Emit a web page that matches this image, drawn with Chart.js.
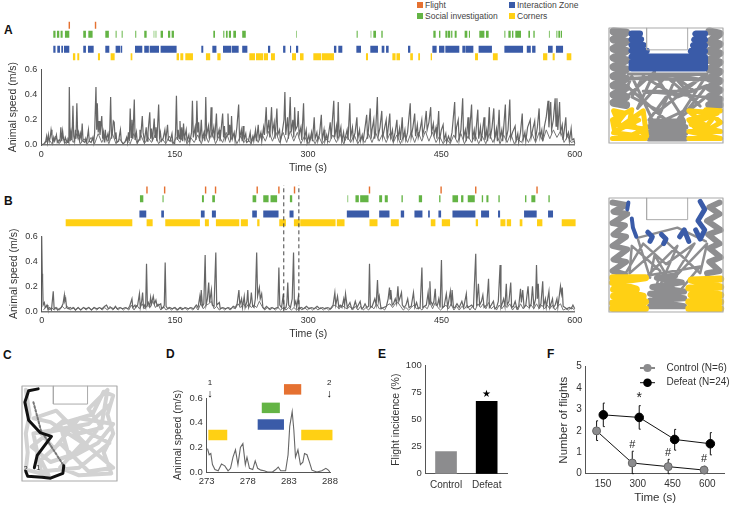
<!DOCTYPE html>
<html>
<head>
<meta charset="utf-8">
<script src="https://cdn.jsdelivr.net/npm/chart.js@4"></script>
<style>
  body { margin: 0; background: #fff; width: 730px; height: 506px; overflow: hidden; position: relative; font-family: "Liberation Sans", Arial, sans-serif; color: #333; }
  canvas { position: absolute; }
  .letter { position: absolute; font-weight: bold; font-size: 12px; color: #111; line-height: 12px; }
  .key { position: absolute; font-size: 8.5px; line-height: 9px; color: #444; white-space: nowrap; }
  .key i { position: absolute; left: -8px; top: 1px; width: 6px; height: 6px; }
</style>
</head>
<body>
<div class="letter" style="left:4px;top:24px">A</div>
<div class="letter" style="left:4px;top:195px">B</div>
<div class="letter" style="left:3px;top:349px">C</div>
<div class="letter" style="left:166px;top:348px">D</div>
<div class="letter" style="left:378px;top:348px">E</div>
<div class="letter" style="left:547px;top:348px">F</div>
<div class="key" style="left:425px;top:1px"><i style="background:#E57131"></i>Flight</div>
<div class="key" style="left:425px;top:12px"><i style="background:#64B445"></i>Social investigation</div>
<div class="key" style="left:517px;top:1px"><i style="background:#3A5BA8"></i>Interaction Zone</div>
<div class="key" style="left:517px;top:12px"><i style="background:#FFD014"></i>Corners</div>
<canvas id="chartA" width="600" height="175" style="left:0;top:0"></canvas>
<canvas id="chartB" width="600" height="170" style="left:0;top:175px"></canvas>
<canvas id="arenaA" width="130" height="135" style="left:600px;top:20px"></canvas>
<canvas id="arenaB" width="130" height="135" style="left:600px;top:190px"></canvas>
<canvas id="arenaC" width="120" height="115" style="left:10px;top:376px"></canvas>
<canvas id="chartD" width="190" height="130" style="left:160px;top:376px"></canvas>
<canvas id="chartE" width="150" height="146" style="left:380px;top:355px"></canvas>
<canvas id="chartF" width="190" height="151" style="left:540px;top:355px"></canvas>
<script>
const orange = "#E57131", green = "#64B445", blue = "#3A5BA8", yellow = "#FFD014";
const axisGrey = "#555", traceGrey = "#666";

// panel A, seconds and m/s
const traceA = [[0,0],[3,.01],[5,.03],[6,.07],[7,.02],[8,.08],[9,.03],[10,.06],[11,.12],[12,.07],[13,.02],[14,.06],[15,.03],[16,.05],[17,.08],[18,.02],[20,.04],[21,.03],[22,.14],[23,.03],[24,.11],[25,.05],[26,.02],[27,.06],[29,.02],[30,.04],[31,.02],[31.5,.46],[32.5,.03],[33.5,.1],[34.5,.04],[35.6,.31],[36.5,.07],[37.5,.03],[38.5,.12],[39,.05],[40,.33],[41,.07],[42,.1],[43,.04],[44,.09],[45,.05],[46,.17],[47,.03],[49,.02],[50,.05],[51,.02],[53,.12],[54,.03],[56,.02],[58,.06],[59,.02],[60,.1],[61.5,.46],[62.3,.12],[63,.33],[64,.1],[65,.19],[66,.08],[67,.15],[68,.23],[69,.05],[70,.1],[71,.02],[72,.12],[73,.04],[75,.09],[76,.03],[77,.12],[78,.38],[79,.05],[80,.1],[81,.19],[82,.18],[83,.05],[84,.1],[85,.02],[87,.03],[88,.08],[89,.12],[90,.03],[92,.01],[94,.02],[96,.06],[97,.02],[98,.1],[99,.03],[100,.29],[101,.06],[102,.2],[103,.05],[104.6,.36],[105.5,.04],[107,.1],[108,.02],[110,.04],[111,.12],[112,.08],[113.6,.23],[114.5,.1],[116,.03],[118,.14],[119,.03],[120,.1],[122,.26],[123,.05],[124,.13],[125,.03],[127,.21],[128,.06],[129,.14],[130,.03],[132,.32],[133,.06],[134,.1],[135,.03],[137,.05],[139,.12],[140,.04],[142,.16],[143,.04],[145,.03],[147,.09],[148,.02],[150,.01],[151,.1],[152,.39],[153,.04],[154,.12],[155,.05],[156,.19],[157,.04],[158,.14],[159,.03],[160,.17],[161,.05],[163,.12],[164,.03],[166,.08],[167,.02],[169,.1],[170,.35],[171,.06],[173,.14],[174,.04],[175,.35],[176,.1],[177,.18],[178,.03],[179,.09],[180,.2],[181,.05],[183,.1],[184,.03],[185,.38],[186,.08],[188,.15],[189,.05],[190,.12],[191,.3],[192,.06],[194,.14],[195,.04],[197,.25],[198,.06],[200,.12],[201,.03],[202,.1],[204,.25],[205,.06],[206,.15],[207,.04],[209,.08],[210,.25],[211,.08],[212,.16],[213,.04],[214,.23],[215,.05],[217,.1],[218,.03],[220,.14],[222,.32],[223,.05],[225,.12],[226,.03],[227,.15],[228,.04],[230,.09],[231,.02],[233,.03],[235,.1],[236,.02],[238,.07],[239,.03],[241,.12],[242,.03],[244,.16],[245,.05],[247,.1],[248,.03],[250,.14],[251,.08],[253,.3],[254,.09],[256,.2],[257,.06],[259,.3],[260,.1],[262,.18],[263,.05],[265,.29],[266,.08],[268,.12],[269,.03],[271,.1],[273,.2],[274,.42],[275,.08],[277,.22],[278,.05],[280,.38],[281,.1],[283,.2],[284,.06],[285,.3],[286,.12],[288,.15],[289,.27],[290,.08],[292,.14],[293,.04],[295,.33],[296,.05],[298,.12],[299,.02],[301,.08],[302,.03],[304,.1],[305,.03],[307,.22],[308,.05],[310,.1],[311,.03],[313,.09],[315,.24],[316,.04],[318,.12],[319,.03],[321,.08],[322,.03],[325,.18],[326,.05],[329,.35],[330,.06],[332,.15],[333,.05],[334,.34],[335,.07],[337,.14],[338,.03],[340,.1],[341,.03],[344,.12],[345,.04],[347,.33],[348,.06],[350,.14],[351,.04],[353,.1],[355,.22],[356,.05],[358,.12],[359,.03],[361,.08],[362,.03],[364,.13],[366,.24],[367,.05],[368,.12],[370,.29],[371,.05],[372,.12],[374,.2],[375,.05],[376,.1],[378,.38],[379,.07],[381,.14],[383,.27],[384,.06],[386,.13],[388,.2],[389,.05],[390,.12],[392,.25],[393,.06],[395,.12],[396,.03],[398,.1],[400,.2],[401,.05],[403,.13],[404,.04],[406,.22],[407,.05],[409,.12],[410,.04],[412,.1],[415,.33],[416,.06],[418,.14],[420,.25],[421,.07],[423,.16],[424,.06],[426,.12],[428,.2],[429,.08],[431,.14],[433,.27],[434,.12],[436,.18],[438,.3],[439,.1],[441,.17],[442,.08],[444,.14],[445,.05],[447,.27],[448,.04],[450,.12],[452,.16],[453,.04],[455,.09],[456,.02],[458,.07],[460,.03],[462,.1],[465,.34],[466,.05],[467,.14],[469,.2],[470,.04],[472,.12],[474,.37],[475,.06],[477,.12],[478,.03],[480,.22],[481,.05],[482,.13],[484,.32],[485,.05],[487,.12],[488,.03],[491,.28],[492,.05],[494,.14],[495,.03],[498,.22],[499,.04],[501,.12],[502,.03],[504,.3],[505,.05],[507,.14],[509,.29],[510,.05],[512,.13],[513,.03],[515,.28],[516,.05],[518,.12],[519,.03],[522,.32],[523,.05],[525,.12],[527,.36],[528,.05],[530,.1],[533,.15],[534,.03],[536,.09],[537,.02],[539,.1],[541,.25],[542,.04],[544,.1],[545,.03],[547,.14],[550,.2],[551,.06],[553,.13],[555,.19],[556,.05],[558,.14],[560,.29],[561,.06],[563,.12],[564,.03],[566,.15],[568,.22],[570,.35],[571,.14],[573,.34],[574,.12],[576,.2],[578,.37],[579,.15],[580,.37],[581,.12],[583,.34],[584,.1],[586,.16],[587,.04],[590,.22],[591,.06],[593,.1],[594,.03],[596,.13],[597,.04],[599,.05],[600,.01]];
// low dark band along the floor of the trace
const floorA = [[4,.01],[8,.05],[12,.01],[16,.07],[20,.01],[24,.06],[28,.01],[32,.07],[36,.02],[40,.09],[44,.01],[48,.05],[52,.01],[56,.06],[60,.01],[64,.09],[68,.02],[72,.08],[76,.01],[80,.09],[84,.01],[88,.05],[92,.01],[96,.04],[100,.01],[104,.09],[108,.01],[112,.08],[116,.01],[120,.06],[124,.02],[128,.08],[132,.01],[136,.05],[140,.01],[144,.07],[148,.01],[152,.06],[156,.02],[160,.09],[164,.01],[168,.06],[172,.02],[176,.08],[180,.01],[184,.09],[188,.02],[192,.1],[196,.01],[200,.07],[204,.02],[208,.1],[212,.02],[216,.09],[220,.01],[224,.07],[228,.02],[232,.05],[236,.01],[240,.08],[244,.02],[248,.09],[252,.03],[256,.11],[260,.03],[264,.1],[268,.02],[272,.1],[276,.02],[280,.11],[284,.03],[288,.1],[292,.01],[296,.07],[300,.01],[304,.06],[308,.01],[312,.07],[316,.01],[320,.05],[324,.02],[328,.08],[332,.02],[336,.09],[340,.01],[344,.07],[348,.02],[352,.08],[356,.01],[360,.06],[364,.02],[368,.09],[372,.02],[376,.1],[380,.03],[384,.09],[388,.02],[392,.09],[396,.02],[400,.08],[404,.01],[408,.08],[412,.02],[416,.1],[420,.02],[424,.1],[428,.03],[432,.11],[436,.03],[440,.1],[444,.02],[448,.07],[452,.01],[456,.05],[460,.01],[464,.08],[468,.02],[472,.09],[476,.01],[480,.07],[484,.02],[488,.08],[492,.01],[496,.07],[500,.01],[504,.09],[508,.02],[512,.09],[516,.01],[520,.08],[524,.02],[528,.09],[532,.01],[536,.05],[540,.02],[544,.08],[548,.02],[552,.09],[556,.02],[560,.1],[564,.03],[568,.12],[572,.05],[576,.12],[580,.06],[584,.11],[588,.02],[592,.07],[596,.02],[600,.03]];
const flightA = [[30.7,32.3],[60.2,61.8]];
const socialA = [[13.5,16],[17.6,20.2],[21.7,24],[26.6,31.5],[47.2,50.2],[52.9,57.7],[72,76],[83.6,84.7],[90.4,91.5],[105.7,106.8],[115.8,118.5],[126.4,127.1],[128.6,129.4],[134.2,136.9],[142.5,145],[146.6,149.2],[193.5,195.4],[204.7,205.9],[207.7,209.6],[211,213.4],[216,219],[220.5,221.2],[226,230],[255.4,256],[272.2,273],[286.5,287.2],[354.7,355.9],[370.5,371.2],[373.5,376.5],[382.5,384],[441,443.6],[447.4,448.9],[454.5,456.4],[457,460],[461,462.4],[465,467.2],[476.2,479.2],[481,482.2],[492.7,498.4],[500.2,503.2],[520.9,522],[525.4,528],[529.5,531],[533.2,539.6],[547.9,549.7],[553.5,555],[571,571.9],[579.4,580.5],[581.6,583.5],[584.3,585.7]];
const zoneA = [[13.5,16],[18,21],[22.5,24.4],[25.5,31.5],[47.2,50.2],[52.5,58.9],[72,76.5],[83.6,88.5],[89.2,91],[105.4,113.6],[115.8,121],[121.9,132.4],[134.2,152.2],[180,182.2],[192.4,197],[204.4,213.4],[214.1,222],[226,231.8],[255,257.5],[272,274.6],[279.8,281],[286.5,289],[329.2,331.9],[334.1,338.6],[354.4,359.6],[370.1,378.7],[382.9,385.9],[387.8,390.7],[412.5,415.1],[426,427.1],[439.9,444.7],[447.4,453.4],[454.5,470.2],[473.6,477],[477.4,486],[491.9,506.9],[520.9,541.9],[546.1,550.6],[552.1,555.9],[570,575.2],[578.9,586.9]];
const cornersA = [[35.6,38.2],[40.5,42.7],[63.7,66],[78,82.5],[100.5,102.4],[152.2,154.9],[156.4,159.7],[162,170.6],[185.2,190],[198,201.7],[234,240.4],[241.5,249.7],[250.5,255],[258.4,262.8],[282,286.5],[291,295],[306,314.6],[315.4,329.2],[365.2,367.5],[394.9,398.5],[399.5,403.5],[415,418],[424,426],[438,439.5],[487.9,491.2],[508,513.4],[564.4,569.2],[575.2,577.5],[591,596.2]];

// panel B
const traceB = [[0,.6],[.6,.3],[1,.25],[1.6,.05],[3,.07],[4,.03],[6,.05],[7,.02],[9,.03],[11,.01],[13,.16],[14,.02],[16,.03],[18,.01],[20,.02],[22,.03],[24,.06],[25.5,.13],[26,.08],[27,.1],[28,.03],[30,.02],[32,.03],[34,.02],[36,.03],[38,.01],[41,.03],[44,.01],[47,.03],[50,.02],[53,.03],[56,.01],[59,.03],[62,.02],[65,.03],[68,.02],[71,.04],[73,.05],[75,.02],[78,.03],[81,.02],[83,.04],[85,.02],[88,.03],[91,.02],[94,.03],[97,.02],[99,.04],[101.6,.1],[102.5,.03],[105,.05],[106,.03],[108,.05],[110,.14],[111,.03],[112.5,.08],[113.6,.15],[114.6,.03],[116,.05],[117,.03],[118,.38],[119,.05],[120,.07],[121.5,.04],[122.6,.11],[123.5,.06],[125.6,.12],[127,.06],[128.6,.09],[130,.04],[132,.05],[134,.06],[135,.02],[137,.03],[138,.05],[139,.39],[140,.04],[142,.02],[144,.03],[147,.02],[150,.03],[153,.01],[156,.03],[159,.02],[162,.03],[165,.02],[168,.03],[171,.02],[174,.05],[176,.03],[178,.12],[179,.05],[179.6,.17],[181,.04],[182.5,.06],[184,.45],[185,.05],[186.5,.1],[188,.23],[189,.07],[191,.17],[192,.05],[194,.04],[196,.47],[197,.05],[200,.07],[201,.02],[204,.03],[207,.02],[210,.03],[213,.02],[215.6,.04],[218,.03],[220,.06],[222,.17],[223,.05],[225,.1],[226,.03],[228,.12],[229,.03],[231,.08],[232,.17],[233,.03],[235,.07],[236,.15],[237.5,.04],[239,.03],[240.5,.1],[242,.47],[243,.12],[245,.19],[246,.1],[247.6,.14],[249,.03],[251,.02],[253,.04],[256,.02],[259,.03],[262,.02],[265,.03],[266,.08],[267,.35],[268,.05],[270,.03],[272,.14],[273,.02],[275,.03],[276,.07],[277,.23],[278,.05],[280,.03],[282,.1],[283.5,.47],[284.5,.05],[286,.08],[287,.03],[289,.12],[290,.02],[292,.03],[295,.02],[298,.04],[301,.02],[304,.03],[307,.02],[310,.04],[313,.02],[316,.03],[319,.02],[322,.03],[325,.02],[328,.05],[330,.15],[331,.05],[333,.12],[334.5,.03],[336,.05],[338,.03],[340,.1],[341,.05],[342,.14],[344,.03],[347,.07],[349,.02],[351,.03],[353,.08],[355,.03],[358.5,.08],[360,.02],[362,.03],[364,.06],[366,.03],[368,.04],[369,.38],[370,.03],[372,.04],[375,.1],[376.5,.05],[378,.25],[379,.08],[380,.12],[382,.02],[385,.03],[388,.04],[390,.1],[391.5,.19],[392.2,.1],[393,.17],[394.5,.05],[396,.06],[398,.1],[399.5,.06],[401,.2],[402,.08],[403,.1],[405,.15],[406,.05],[408,.03],[410,.05],[412,.1],[413.5,.03],[416,.04],[418.5,.15],[420,.03],[422,.07],[424,.02],[426,.03],[428,.35],[429,.03],[431,.04],[433,.05],[435,.15],[436,.06],[437,.24],[438,.08],[440,.05],[441.5,.08],[443,.18],[444,.05],[445.5,.05],[447,.1],[448.5,.03],[450,.41],[451,.03],[453,.04],[455.5,.14],[457,.03],[460,.16],[461,.04],[462,.17],[463.5,.03],[465,.03],[467.5,.06],[470,.03],[473,.08],[475,.03],[478,.14],[479,.03],[482,.04],[484,.05],[486,.03],[488.6,.46],[489.6,.04],[491.6,.22],[493,.05],[495,.08],[496.6,.13],[498,.03],[501,.05],[503,.26],[504,.03],[506,.05],[508.5,.08],[510,.02],[512,.03],[514,.08],[516,.37],[517,.03],[520,.1],[521.5,.04],[523,.22],[524,.05],[526,.08],[528,.23],[529,.03],[531,.04],[533,.08],[535,.02],[537,.04],[539,.18],[540,.07],[541.5,.17],[543,.03],[545,.05],[547.5,.2],[549,.03],[551,.06],[552.5,.2],[554,.04],[556,.1],[557,.37],[558,.1],[559,.22],[560,.03],[562,.06],[564,.24],[565,.04],[567,.1],[568,.03],[571,.16],[572,.03],[575,.1],[576,.03],[578,.05],[580,.1],[581,.03],[584,.2],[585,.14],[586,.19],[587,.04],[591,.02],[594,.03],[596,.02],[598,.05],[600,.02]];
const floorB = [[2,.01],[5,.04],[8,.01],[11,.03],[14,.01],[17,.03],[20,.01],[23,.04],[26,.02],[29,.04],[32,.01],[35,.03],[38,.01],[41,.03],[44,.01],[47,.03],[50,.01],[53,.03],[56,.01],[59,.03],[62,.01],[65,.03],[68,.01],[71,.03],[74,.01],[77,.04],[80,.01],[83,.03],[86,.01],[89,.03],[92,.01],[95,.03],[98,.01],[101,.05],[104,.01],[107,.05],[110,.02],[113,.06],[116,.02],[119,.05],[122,.03],[125,.08],[128,.03],[131,.06],[134,.01],[137,.04],[140,.01],[143,.03],[146,.01],[149,.03],[152,.01],[155,.03],[158,.01],[161,.03],[164,.01],[167,.03],[170,.01],[173,.04],[176,.01],[179,.06],[182,.02],[185,.05],[188,.06],[191,.08],[194,.02],[197,.04],[200,.01],[203,.03],[206,.01],[209,.03],[212,.01],[215,.03],[218,.02],[221,.06],[224,.03],[227,.06],[230,.03],[233,.06],[236,.03],[239,.05],[242,.03],[245,.08],[248,.04],[251,.01],[254,.03],[257,.01],[260,.03],[263,.01],[266,.03],[269,.01],[272,.03],[275,.01],[278,.03],[281,.01],[284,.03],[287,.01],[290,.03],[293,.01],[296,.03],[299,.01],[302,.03],[305,.01],[308,.03],[311,.01],[314,.03],[317,.01],[320,.03],[323,.01],[326,.02],[329,.05],[332,.04],[335,.02],[338,.05],[341,.03],[344,.02],[347,.04],[350,.01],[353,.04],[356,.01],[359,.04],[362,.01],[365,.03],[368,.01],[371,.04],[374,.02],[377,.06],[380,.02],[383,.03],[386,.01],[389,.05],[392,.06],[395,.03],[398,.06],[401,.07],[404,.04],[407,.01],[410,.03],[413,.01],[416,.03],[419,.05],[422,.02],[425,.03],[428,.01],[431,.04],[434,.02],[437,.07],[440,.02],[443,.07],[446,.03],[449,.01],[452,.03],[455,.05],[458,.02],[461,.06],[464,.01],[467,.04],[470,.01],[473,.04],[476,.02],[479,.05],[482,.01],[485,.04],[488,.01],[491,.06],[494,.03],[497,.06],[500,.02],[503,.07],[506,.02],[509,.04],[512,.01],[515,.05],[518,.02],[521,.05],[524,.03],[527,.06],[530,.01],[533,.04],[536,.01],[539,.06],[542,.02],[545,.05],[548,.03],[551,.05],[554,.02],[557,.06],[560,.02],[563,.05],[566,.02],[569,.05],[572,.02],[575,.05],[578,.01],[581,.04],[584,.06],[587,.01],[590,.02],[593,.01],[596,.03],[600,.01]];
const flightB = [[117.7,119.3],[137.6,139.2],[183.7,185.3],[194.9,196.5],[241.8,243.4],[266.2,267.8],[283.8,285.4],[368.2,369.8],[448.8,450.4],[487.8,489.4],[556.8,558.4]];
const socialB = [[110.6,114.4],[136,137.2],[180.4,182.6],[192,195],[237.4,241.5],[249.4,255.4],[257.6,265],[279.4,282],[344.2,345],[353.2,357],[358.5,367.9],[379.9,383.2],[386.2,389.6],[405,406.5],[424.5,428.2],[435,435.8],[447.4,448.9],[462.4,468.7],[472.1,474.7],[479.6,487.5],[495.4,496.9],[500.6,502.9],[514.1,515.6],[544.1,545.6],[551.2,555.7],[570.4,571.9]];
const zoneB = [[110,117.7],[134.6,137.6],[179.2,183.4],[191.6,196.1],[237,242.2],[249.4,266.6],[279,283.5],[343.5,368.6],[379.9,391.5],[404.2,408],[419.6,428.6],[435,436.9],[446.6,449.6],[462.4,488.2],[494.6,503.6],[513.7,516],[543,557.2],[570,575.6]];
const cornersB = [[27,102],[118.1,124.9],[139.1,178.1],[183.7,188.2],[196.1,222.4],[224.2,232.1],[242.6,245.2],[267.4,274.9],[283.9,290.6],[291,330.8],[332.2,340.9],[369,378],[393,402],[438,443.2],[450.4,459.7],[488.6,491.2],[516.4,522],[523.5,528.4],[538.1,541.1],[557.6,563.6],[585.4,601]];
const windowB = [272.5, 289.5];

// panel D
const traceD = [[273.1,.19],[273.3,.14],[273.5,.15],[273.7,.06],[274,.02],[274.4,.01],[274.8,.065],[275.2,.05],[275.6,.01],[275.9,.03],[276.2,.12],[276.5,.18],[276.8,.06],[277.1,.2],[277.4,.23],[277.7,.06],[277.9,.12],[278.2,.03],[278.6,.02],[278.9,.09],[279.2,.03],[279.6,.015],[280,.01],[280.4,0],[281,0],[281.4,.02],[281.7,.04],[282,.01],[282.6,.01],[282.9,.14],[283.1,.37],[283.4,.49],[283.6,.34],[283.8,.12],[284.1,.18],[284.4,.06],[284.7,.08],[284.9,.15],[285.2,.14],[285.5,.08],[285.8,.015],[286.4,0],[287,.01],[287.5,.03],[287.8,.015],[288,0]];
const yellowD = [[273.2,275.5],[284.5,288.3]];
const blueD = [[279.2,282.4]];
const greenD = [[279.7,281.9]];
const orangeD = [[282.4,284.5]];

// panel E
const groupsE = ["Control", "Defeat"];
const incidenceE = [20.5, 67];

// panel F
const binsF = [150, 300, 450, 600];
const controlX = [122, 276, 431, 586];
const defeatX = [151, 306, 459, 613];
const controlMean = [2, .5, .33, .17];
const controlLow = [1.55, 0, 0, 0];
const controlHigh = [2.47, 1.05, .67, .35];
const defeatMean = [2.75, 2.63, 1.6, 1.4];
const defeatLow = [2.2, 2.08, 1.1, .88];
const defeatHigh = [3.3, 3.18, 2.07, 1.92];

// open-field tracks, arena units 0-100
const boxOutline = [[33,100],[33,81],[69,81],[69,100]];
const frame = [[0,0],[100,0],[100,100],[0,100],[0,0]];
const sidesA1 = [[4,97],[15,96],[4,90],[15,88],[4,82],[15,80],[4,74],[15,72],[4,66],[15,64],[4,58],[15,56],[4,50],[15,48],[4,42],[15,40],[4,35],[15,33]];
const sidesA2 = [[88,97],[97,95],[88,88],[97,86],[88,80],[97,78],[88,72],[97,70],[88,64],[97,62],[88,56],[97,54],[88,48],[97,46],[88,40],[97,38],[88,33],[97,33]];
const webA = [[15,50],[50,20],[60,10],[38,10],[60,60],[17,60],[86,60],[17,56],[86,55],[40,60],[66,20],[35,20],[50,40],[85,58],[60,20],[85,40],[30,45],[75,45],[55,60],[80,32],[50,58],[25,30],[40,62],[10,35],[20,58],[40,16],[70,30],[86,50],[60,40],[30,58],[20,40],[44,28],[85,60]];
const floorGreyA = [[35,4],[67,4],[35,9],[67,9],[35,14],[67,14],[37,18],[65,18]];
const yellowA1 = [[3,4],[32,4],[4,9],[20,7],[32,12],[6,16],[14,26],[4,28],[10,14],[30,28],[33,6],[18,18],[20,29],[3,20],[5,10],[26,20]];
const yellowA2 = [[70,4],[98,4],[70,10],[98,10],[72,16],[95,26],[70,28],[88,12],[98,18],[85,29],[98,28],[70,20],[80,8],[90,20]];
const blueA = [[20,95],[27,95],[20,90],[28,90],[20,85],[30,85],[20,80],[33,80],[20,75],[82,75],[84,70],[20,70],[20,65],[84,65],[84,75],[72,80],[84,80],[74,85],[84,85],[75,90],[84,90],[76,95],[84,95]];
const sidesB1 = [[3,96],[15,94],[4,88],[16,86],[3,78],[14,76],[4,68],[15,66],[3,58],[16,55],[4,46],[15,44],[3,36],[14,33]];
const sidesB2 = [[86,34],[97,36],[88,44],[98,48],[88,56],[97,60],[87,68],[98,72],[86,80],[97,86],[88,92],[97,96]];
const webB = [[14,33],[30,60],[50,42],[75,60],[60,36],[38,8],[45,36],[20,58],[18,34],[50,62],[80,34],[86,60],[40,12],[60,58],[34,32],[80,40],[60,16],[40,50],[36,30],[25,65],[60,74],[85,62]];
const floorGreyB = [[36,5],[66,5],[36,10],[66,12],[36,16],[66,18],[38,22],[64,26],[42,30],[58,32]];
const yellowB1 = [[3,3],[32,3],[3,8],[32,9],[4,14],[30,14],[4,20],[24,20],[3,26],[32,30],[3,30],[14,8],[6,24]];
const yellowB2 = [[70,3],[98,3],[70,9],[98,9],[72,15],[98,15],[70,21],[98,22],[72,28],[98,29]];
const blueB = [[17,96],[16,90]];
const blueB2 = [[20,82],[21,74],[24,66]];
const blueB3 = [[34,70],[38,66],[36,62]];
const blueB4 = [[46,68],[50,64],[48,60]];
const blueB5 = [[62,66],[66,72],[70,62]];
const blueB6 = [[76,72],[80,64],[84,72],[78,80],[84,90],[80,97]];
const greyC = [[4,96],[8,70],[4,50],[6,30],[4,12],[28,6],[20,22],[40,40],[70,10],[96,14],[70,36],[50,56],[20,50],[34,34],[60,66],[96,60],[80,40],[50,24],[40,60],[74,70],[86,94],[96,90],[90,70],[96,50],[86,30],[94,8],[60,6],[40,14],[64,40],[30,62],[12,66],[36,74],[60,50],[84,56],[70,76],[80,86],[90,96],[84,60],[60,30],[30,20],[10,36],[44,64],[92,40],[60,14],[20,10],[12,50],[70,60],[92,80]];
const blackC1 = [[13,14],[16,27],[31,47],[19,51],[7,64],[3,83],[7,95],[17,97]];
const blackC2 = [[44,16],[43,8],[30,3],[21,4],[6,5],[4,10]];
const dotsC = [[12,83],[20,53],[44,16]];
const endsC = [{ text: "1", x: 17, y: 14, size: 7 }, { text: "2", x: 4, y: 13, size: 7 }];

const textFont = "Liberation Sans";
Chart.defaults.font.family = textFont;
Chart.defaults.color = "#333";
Chart.defaults.animation = false;
Chart.defaults.plugins.legend.display = false;
Chart.defaults.plugins.tooltip.enabled = false;

// small text marks placed on data positions
const dataText = {
  id: "dataText",
  afterDatasetsDraw(chart, args, opts) {
    const { ctx, scales } = chart;
    ctx.save();
    ctx.textAlign = "center";
    ctx.textBaseline = "middle";
    (opts.items || []).forEach(m => {
      ctx.fillStyle = m.color || "#222";
      ctx.font = (m.size || 10) + "px " + textFont;
      ctx.fillText(m.text, scales.x.getPixelForValue(m.x), scales.y.getPixelForValue(m.y));
    });
    ctx.restore();
  },
};

// one chart per canvas: padding is worked out so the plot rectangle lands on the page box
function padFor(cv, box, yw, xh) {
  const r = { x: parseFloat(cv.style.left), y: parseFloat(cv.style.top) };
  return {
    left: box.l - r.x - yw,
    top: box.t - r.y,
    right: r.x + cv.width - box.r,
    bottom: r.y + cv.height - box.b - xh,
  };
}

function barPts(list, row) {
  const pts = [];
  list.forEach(([s, e]) => pts.push({ x: s, y: row }, { x: e, y: row }, { x: e, y: NaN }));
  return pts;
}

function track(list, row, color, w) {
  return { data: barPts(list, row), showLine: true, borderColor: color, borderWidth: w, borderCapStyle: "butt", pointRadius: 0, clip: false };
}

function axisX(min, max, step, title, h, size, lineW) {
  return {
    type: "linear", min, max,
    afterFit(s) { s.height = h; },
    grid: { display: false, drawTicks: true, tickLength: 3, tickColor: axisGrey },
    border: { color: lineW ? "#777" : axisGrey, width: lineW || 1 },
    ticks: { stepSize: step, font: { size: size || 9 }, padding: 1, maxRotation: 0, autoSkip: false },
    title: title ? { display: true, text: title, font: { size: 10.5 }, padding: 0 } : { display: false },
  };
}

function axisY(max, step, title, w, digits, size, tsize) {
  return {
    min: 0, max,
    afterFit(s) { s.width = w; },
    grid: { display: false, tickLength: 3, tickColor: axisGrey },
    border: { color: axisGrey },
    ticks: { stepSize: step, font: { size: size || 9 }, padding: 1, callback: v => v.toFixed(digits) },
    title: { display: true, text: title, font: { size: tsize || 10.5 }, padding: 0 },
  };
}

function speedChart(id, box, trace, floor, rows, extra) {
  const cv = document.getElementById(id);
  const line = (pts, w, color) => ({ data: pts.map(([x, y]) => ({ x, y })), showLine: true, borderColor: color, borderWidth: w, pointRadius: 0, clip: false });
  new Chart(cv, {
    type: "scatter",
    data: { datasets: [...(extra || []), line(trace, 1.2, traceGrey), line(floor, 1, "#777"), ...rows] },
    options: {
      responsive: false,
      layout: { padding: padFor(cv, box, 34, 29) },
      scales: { x: axisX(0, 600, 150, "Time (s)", 29, 9, 1.5), y: axisY(.6, .2, "Animal speed (m/s)", 34, 1) },
    },
  });
}

speedChart("chartA", { l: 41.3, r: 574.7, t: 69.3, b: 145 }, traceA, floorA, [
  track(flightA, .95, orange, 7), track(socialA, .878, green, 7),
  track(zoneA, .759, blue, 7), track(cornersA, .70, yellow, 7),
]);

speedChart("chartB", { l: 41.7, r: 574.7, t: 236.3, b: 311.3 }, traceB, floorB, [
  track(flightB, .97, orange, 7), track(socialB, .90, green, 7),
  track(zoneB, .778, blue, 7), track(cornersB, .708, yellow, 7),
], windowB.map(t => ({
  data: [{ x: t, y: 0 }, { x: t, y: 1.01 }], showLine: true, borderColor: "#444", borderWidth: 1,
  borderDash: [4, 3], pointRadius: 0, clip: false,
})));

function arena(id, box, layers, items) {
  const cv = document.getElementById(id);
  new Chart(cv, {
    type: "scatter",
    data: { datasets: layers.map(l => ({
      data: l.path.map(([x, y]) => ({ x, y })), showLine: true, borderColor: l.color, borderWidth: l.w,
      borderDash: l.dash || [], borderJoinStyle: "round", borderCapStyle: "round", pointRadius: 0, clip: false,
    })) },
    options: {
      responsive: false,
      layout: { padding: padFor(cv, box, 0, 0) },
      scales: { x: { display: false, min: 0, max: 100 }, y: { display: false, min: 0, max: 100 } },
      plugins: { dataText: { items: items || [] } },
    },
    plugins: [dataText],
  });
}

const frameGrey = "#aaa", trackGrey = "#8e8e90";
arena("arenaA", { l: 609, r: 723, t: 28, b: 143 }, [
  { path: frame, color: frameGrey, w: 1.2 }, { path: boxOutline, color: frameGrey, w: 1 },
  { path: blueA, color: blue, w: 6.5 },
  { path: yellowA1, color: yellow, w: 5 }, { path: yellowA2, color: yellow, w: 5 },
  { path: sidesA1, color: trackGrey, w: 8 }, { path: sidesA2, color: trackGrey, w: 8 },
  { path: floorGreyA, color: trackGrey, w: 6 }, { path: webA, color: trackGrey, w: 3 },
]);
arena("arenaB", { l: 609, r: 723, t: 198, b: 312 }, [
  { path: frame, color: frameGrey, w: 1.2 }, { path: boxOutline, color: frameGrey, w: 1 },
  { path: blueB, color: blue, w: 4 }, { path: blueB2, color: blue, w: 4 }, { path: blueB3, color: blue, w: 5 },
  { path: blueB4, color: blue, w: 5 }, { path: blueB5, color: blue, w: 5 }, { path: blueB6, color: blue, w: 5 },
  { path: yellowB1, color: yellow, w: 7 }, { path: yellowB2, color: yellow, w: 7 },
  { path: sidesB1, color: trackGrey, w: 6 }, { path: sidesB2, color: trackGrey, w: 6 },
  { path: floorGreyB, color: trackGrey, w: 6 }, { path: webB, color: trackGrey, w: 2.5 },
]);
arena("arenaC", { l: 22, r: 117, t: 386, b: 481 }, [
  { path: frame, color: frameGrey, w: 1.2 }, { path: boxOutline, color: frameGrey, w: 1 },
  { path: blackC1, color: "#111", w: 3 }, { path: blackC2, color: "#111", w: 3 },
  { path: dotsC, color: "#777", w: 2, dash: [2, 2] },
  { path: greyC, color: "#d2d2d2", w: 4 },
], endsC);

// panel D
const cvD = document.getElementById("chartD");
new Chart(cvD, {
  type: "scatter",
  data: { datasets: [
    track(orangeD, .67, orange, 10.5), track(greenD, .52, green, 10.5),
    track(blueD, .385, blue, 10.5), track(yellowD, .3, yellow, 10.5),
    { data: traceD.map(([x, y]) => ({ x, y })), showLine: true, borderColor: traceGrey, borderWidth: 1.1, pointRadius: 0 },
  ] },
  options: {
    responsive: false,
    layout: { padding: padFor(cvD, { l: 206.7, r: 330, t: 398, b: 472 }, 34.7, 14) },
    scales: { x: axisX(273, 288, 5, null, 14, 9.5), y: axisY(.6, .2, "Animal speed (m/s)", 34.7, 1, 9.5) },
    plugins: { dataText: { items: [
      { text: "1", x: 273.4, y: .72, size: 8 }, { text: "↓", x: 273.4, y: .63, size: 11, color: "#000" },
      { text: "2", x: 287.9, y: .72, size: 8 }, { text: "↓", x: 287.9, y: .63, size: 11, color: "#000" },
    ] } },
  },
  plugins: [dataText],
});

// panel E, the star takes its category index as x
const cvE = document.getElementById("chartE");
new Chart(cvE, {
  type: "bar",
  data: { labels: groupsE, datasets: [{ data: incidenceE, backgroundColor: ["#8c8c8e", "#000"], barThickness: 21 }] },
  options: {
    responsive: false,
    layout: { padding: padFor(cvE, { l: 425.7, r: 507, t: 365.7, b: 473.7 }, 36, 17) },
    scales: {
      x: {
        afterFit(s) { s.height = 17; },
        grid: { display: false, drawTicks: false },
        border: { color: axisGrey },
        ticks: { font: { size: 10 }, padding: 6 },
      },
      y: axisY(100, 25, "Flight incidence (%)", 36, 0, 9.5),
    },
    plugins: { dataText: { items: [{ text: "★", x: 1, y: 74, size: 10, color: "#000" }] } },
  },
  plugins: [dataText],
});

// panel F
function whisker(xs, low, high, color) {
  const pts = [];
  xs.forEach((x, i) => pts.push({ x, y: low[i] }, { x, y: high[i] }, { x, y: NaN }));
  return { data: pts, showLine: true, borderColor: color, borderWidth: 1, pointStyle: "dash", pointRadius: 1.5, pointBorderColor: color, clip: false };
}

function meanLine(xs, ys, fill, r) {
  return {
    data: xs.map((x, i) => ({ x, y: ys[i] })), showLine: true, borderColor: "#111", borderWidth: 1,
    pointRadius: r, pointBackgroundColor: fill, pointBorderColor: fill === "#000" ? "#000" : "#666", clip: false,
  };
}

const legendF = {
  id: "legendF",
  afterDatasetsDraw(chart) {
    const { ctx } = chart;
    const left = parseFloat(chart.canvas.style.left), top = parseFloat(chart.canvas.style.top);
    [["Control (N=6)", 368, "#8c8c8e", 4], ["Defeat (N=24)", 382.7, "#000", 4.3]].forEach(([text, py, fill, r]) => {
      const y = py - top;
      ctx.strokeStyle = "#111";
      ctx.lineWidth = 1;
      ctx.beginPath(); ctx.moveTo(640 - left, y); ctx.lineTo(655 - left, y); ctx.stroke();
      ctx.fillStyle = fill;
      ctx.beginPath(); ctx.arc(647.5 - left, y, r, 0, Math.PI * 2); ctx.fill();
      ctx.fillStyle = "#333";
      ctx.font = "10px " + textFont;
      ctx.textAlign = "left";
      ctx.textBaseline = "middle";
      ctx.fillText(text, 666.5 - left, y);
    });
  },
};

const cvF = document.getElementById("chartF");
new Chart(cvF, {
  type: "scatter",
  data: { datasets: [
    meanLine(controlX, controlMean, "#8c8c8e", 4),
    meanLine(defeatX, defeatMean, "#000", 4.3),
    whisker(controlX, controlLow, controlHigh, "#111"),
    whisker(defeatX, defeatLow, defeatHigh, "#111"),
  ] },
  options: {
    responsive: false,
    layout: { padding: padFor(cvF, { l: 585.7, r: 725, t: 366.7, b: 473.7 }, 28.7, 31) },
    scales: {
      x: {
        type: "linear", min: 75, max: 675,
        afterFit(s) { s.height = 31; },
        grid: { display: false, tickLength: 3, tickColor: c => (binsF.includes(c.tick.value) ? "transparent" : axisGrey) },
        border: { color: axisGrey },
        ticks: { stepSize: 75, autoSkip: false, maxRotation: 0, font: { size: 10 }, padding: 2, callback: v => (binsF.includes(v) ? String(v) : "") },
        title: { display: true, text: "Time (s)", font: { size: 11.5 }, padding: 0 },
      },
      y: axisY(5, 1, "Number of flights", 28.7, 0, 10, 11.5),
    },
    plugins: { dataText: { items: [
      { text: "*", x: 306, y: 3.55, size: 14 }, { text: "#", x: 276, y: 1.35, size: 11 },
      { text: "#", x: 431, y: .97, size: 11 }, { text: "#", x: 586, y: .67, size: 11 },
    ] } },
  },
  plugins: [dataText, legendF],
});
</script>
</body>
</html>
